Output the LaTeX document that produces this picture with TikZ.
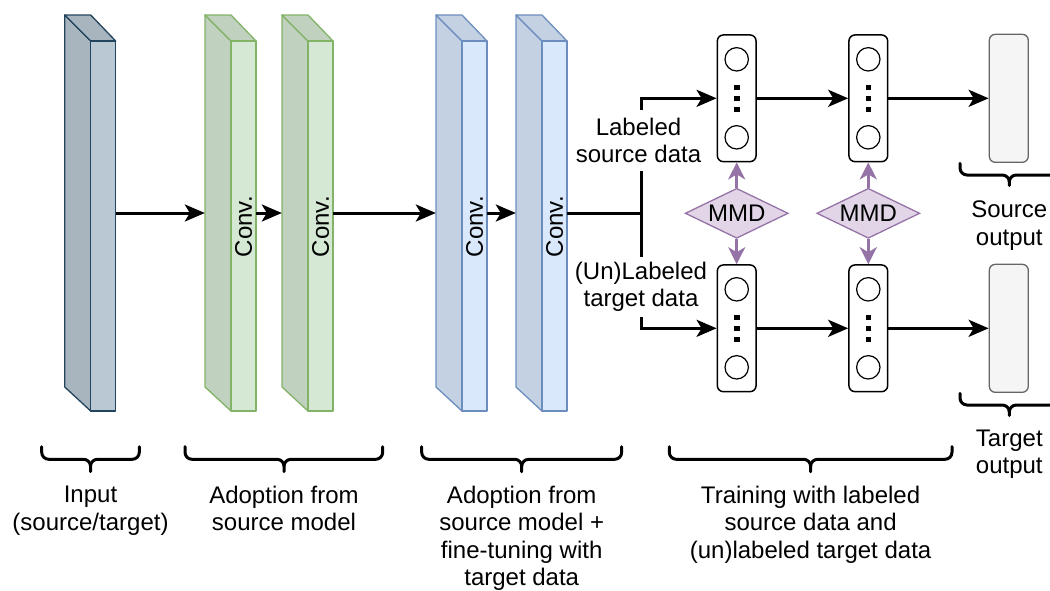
\documentclass[tikz,border=0pt]{standalone}
\usepackage{fontspec}
\setmainfont{Liberation Sans}
\usetikzlibrary{arrows.meta,shapes.geometric,calc}

\definecolor{inFront}{HTML}{BAC8D3}
\definecolor{inSide}{HTML}{A8B5BF}
\definecolor{inLine}{HTML}{23445D}
\definecolor{grFront}{HTML}{D5E8D4}
\definecolor{grSide}{HTML}{C0D1BF}
\definecolor{grLine}{HTML}{82B366}
\definecolor{blFront}{HTML}{DAE8FC}
\definecolor{blSide}{HTML}{C4D1E3}
\definecolor{blLine}{HTML}{6C8EBF}
\definecolor{mmdFill}{HTML}{E1D5E7}
\definecolor{mmdLine}{HTML}{9673A6}
\definecolor{outFill}{HTML}{F5F5F5}
\definecolor{outLine}{HTML}{666666}

% under-brace: left x, centre x, right x, top y, middle y, tip y
\newcommand\curlyunder[6]{%
  \draw[brace] (#1,#4) -- (#1,#5-7) to[out=-90,in=180] (#1+7,#5) -- (#2-7,#5)
     to[out=0,in=90] (#2,#5+7) -- (#2,#6);
  \draw[brace] (#3,#4) -- (#3,#5-7) to[out=-90,in=0] (#3-7,#5) -- (#2+7,#5)
     to[out=180,in=90] (#2,#5+7);
}

\begin{document}
\begin{tikzpicture}[x=1pt,y=-1pt,
  lbl/.style={font=\fontsize{24}{27.5}\selectfont, align=center, inner sep=0pt},
  arr/.style={line width=3pt, -{Stealth[length=20pt,width=17pt,inset=5pt]}},
  link/.style={line width=3pt},
  slab/.style={minimum width=51pt, minimum height=396pt, inner sep=0pt},
  face/.style={line width=1.3pt, line join=round},
  nnbox/.style={draw, line width=1.5pt, rounded corners=6pt, minimum width=38.7pt,
                minimum height=126.7pt, inner sep=0pt},
  outbox/.style={draw=outLine, fill=outFill, line width=1.3pt, rounded corners=6pt,
                 minimum width=39pt, minimum height=128pt, inner sep=0pt},
  mmd/.style={diamond, draw=mmdLine, fill=mmdFill, line width=1.3pt, minimum width=103pt,
              minimum height=50pt, inner sep=0pt, shape aspect=2.06,
              font=\fontsize{24}{27.5}\selectfont},
  mmdarr/.style={draw=mmdLine, line width=3.5pt, -{Stealth[length=17pt,width=17pt,inset=5pt]}},
  brace/.style={line width=3pt, line cap=round, line join=round},
  convtxt/.style={rotate=90, font=\fontsize{24}{27.5}\selectfont, inner sep=0pt},
]
\useasboundingbox (0,0) rectangle (1050,590);

% convolution slabs drawn as boxes with side and top faces
\foreach \x/\nm/\fc/\sc/\lc in {64.7/s1/inFront/inSide/inLine, 205/s2/grFront/grSide/grLine,
    282/s3/grFront/grSide/grLine, 436/s4/blFront/blSide/blLine, 516/s5/blFront/blSide/blLine}{
  \filldraw[face, fill=\sc, draw=\lc] (\x,15) -- (\x+26,41) -- (\x+26,411) -- (\x,387) -- cycle;
  \filldraw[face, fill=\sc, draw=\lc] (\x,15) -- (\x+26,15) -- (\x+51,41) -- (\x+26,41) -- cycle;
  \filldraw[face, fill=\fc, draw=\lc] (\x+26,41) rectangle (\x+51,411);
  \node[slab] (\nm) at (\x+25.5,213) {};
}
\node[convtxt] (c2) at (243.5,226.7) {Conv.};
\node[convtxt] (c3) at (320.5,226.7) {Conv.};
\node[convtxt] (c4) at (474.5,226.7) {Conv.};
\node[convtxt] (c5) at (554.5,226.7) {Conv.};

\draw[arr] (s1) -- (s2);
\draw[arr] (s2) -- (s3);
\draw[arr] (s3) -- (s4);
\draw[arr] (s4) -- (s5);

% fully connected layers
\node[nnbox] (nn1) at (736.7,98.3) {};
\node[nnbox] (nn2) at (868.3,98.3) {};
\node[nnbox] (nn3) at (736.7,328.3) {};
\node[nnbox] (nn4) at (868.3,328.3) {};
\foreach \n in {nn1,nn2,nn3,nn4}{
  \draw[line width=1.2pt] ($(\n)+(0,-39)$) circle[radius=11.7pt];
  \draw[line width=1.2pt] ($(\n)+(0,39)$) circle[radius=11.7pt];
  \foreach \d in {-11,0,11}
    \fill ($(\n)+(-2.8,\d-2.8)$) rectangle ++(5.6,5.6);
}

\node[outbox] (o1) at (1008.8,98.3) {};
\node[outbox] (o2) at (1008.8,328.3) {};

% split into source and target branches
\coordinate (jn) at (641.7,213);
\draw[link] (s5.east) -- (jn);
\draw[arr] (jn) |- (nn1);
\draw[arr] (jn) |- (nn3);
\node[lbl, fill=white, inner xsep=2pt, inner ysep=8pt] (lsrc) at (638.5,140.3) {Labeled\\source data};
\node[lbl, fill=white, inner xsep=2pt, inner ysep=5pt] (ltgt) at (641,286.7) {(Un)Labeled\\target data};

\draw[arr] (nn1) -- (nn2);
\draw[arr] (nn2) -- (o1);
\draw[arr] (nn3) -- (nn4);
\draw[arr] (nn4) -- (o2);

% MMD losses between the branches
\node[mmd] (m1) at (736.7,213.3) {MMD};
\node[mmd] (m2) at (868.3,213.3) {MMD};
\draw[mmdarr] (m1) -- (nn1);
\draw[mmdarr] (m1) -- (nn3);
\draw[mmdarr] (m2) -- (nn2);
\draw[mmdarr] (m2) -- (nn4);

% braces and captions
\curlyunder{41.7}{90.5}{139.3}{446.7}{459.3}{471.7}
\curlyunder{185}{284}{382.7}{446.7}{459.3}{471.7}
\curlyunder{421.7}{521.7}{621.7}{446.7}{459.3}{471.7}
\curlyunder{669.3}{810.6}{952}{446.7}{459.3}{471.7}
\curlyunder{960}{1009.3}{1058.6}{163.3}{175}{185.5}
\curlyunder{960}{1009.3}{1058.6}{393.3}{405}{415.5}

\node[lbl, anchor=north] (tin) at (90.5,485.8) {Input\\(source/target)};
\node[lbl, anchor=north] (tad) at (284,485.8) {Adoption from\\source model};
\node[lbl, anchor=north] (tft) at (521.7,485.8) {Adoption from\\source model +\\fine-tuning with\\target data};
\node[lbl, anchor=north] (ttr) at (810.6,485.8) {Training with labeled\\source data and\\(un)labeled target data};
\node[lbl, anchor=north] (tso) at (1009.3,200.8) {Source\\output};
\node[lbl, anchor=north] (tto) at (1009.3,429.5) {Target\\output};
\end{tikzpicture}
\end{document}
